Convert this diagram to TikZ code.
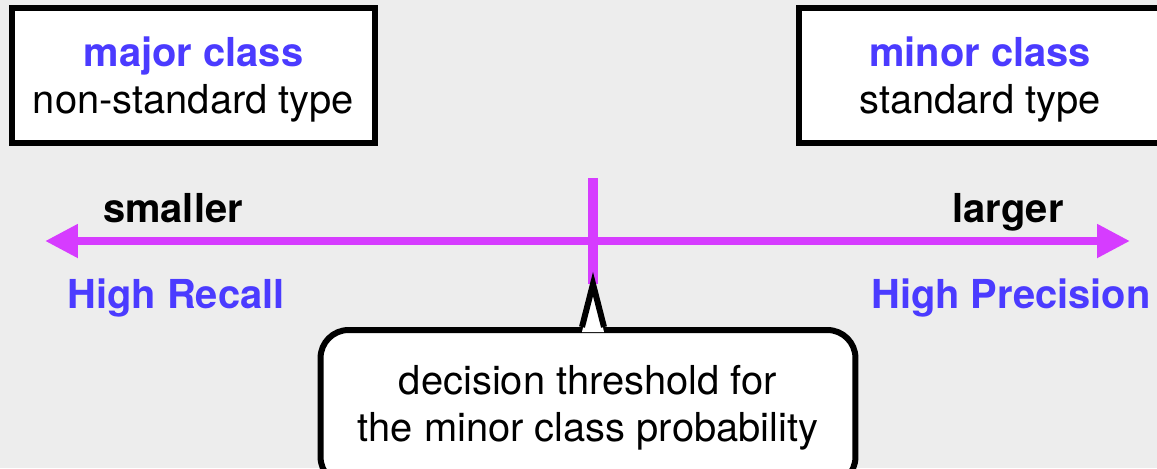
\documentclass[tikz,border=0pt]{standalone}
\usepackage{fontspec}
\setmainfont{TeX Gyre Heros}
\usetikzlibrary{arrows.meta,calc}
\definecolor{Paper}{HTML}{EDEDED}
\definecolor{Violet}{HTML}{D63CFF}
\definecolor{Indigo}{HTML}{4B3BFF}
\newcommand{\figfont}{\fontsize{22.7}{26.6}\selectfont}

\begin{document}
\begin{tikzpicture}[x=.02cm,y=-.02cm,
    every node/.style={font=\figfont},
    classbox/.style={draw,line width=.12cm,fill=white,align=center,inner sep=0pt,text depth=0pt,minimum width=7.26cm,minimum height=2.7cm},
    notebox/.style={draw,line width=.12cm,fill=white,align=center,inner sep=0pt,rounded corners=.56cm,minimum width=10.7cm,minimum height=3.1cm},
    sidelabel/.style={anchor=base,font=\figfont\bfseries}]
        \useasboundingbox(0,0)rectangle(1157,468);
        \clip(0,0)rectangle(1157,468);
        \fill[Paper](0,0)rectangle(1157,468);
        % the two classes
        \node[classbox](major)at(193.5,75.5){\textbf{\color{Indigo}major class}\\non-standard type};
        \node[classbox](minor)at(980,75.5){\textbf{\color{Indigo}minor class}\\standard type};
        % threshold axis
        \coordinate(lo)at(45,241);
        \coordinate(hi)at(1130,241);
        \draw[Violet,line width=.16cm,{Triangle[length=.66cm,width=.64cm]}-{Triangle[length=.66cm,width=.64cm]}](lo)--(hi);
        \coordinate(thr)at(593,178);
        \coordinate(tip)at(593,284);
        \draw[Violet,line width=.2cm](thr)--(tip);
        \node[sidelabel](smaller)at(173,222){smaller};
        \node[sidelabel](larger)at(1008,222){larger};
        \node[sidelabel,Indigo](recall)at(176,308){High Recall};
        \node[sidelabel,Indigo](precision)at(1011,308){High Precision};
        % callout
        \node[notebox](note)at(588,407.5){decision threshold for\\the minor class probability};
        \fill[white]($(tip|-note.north)+(-11,5)$)--(tip)--($(tip|-note.north)+(11,5)$)--cycle;
        \draw[line width=.12cm,line join=miter]($(tip|-note.north)+(-11,0)$)--(tip)--($(tip|-note.north)+(11,0)$);
      \end{tikzpicture}
\end{document}
